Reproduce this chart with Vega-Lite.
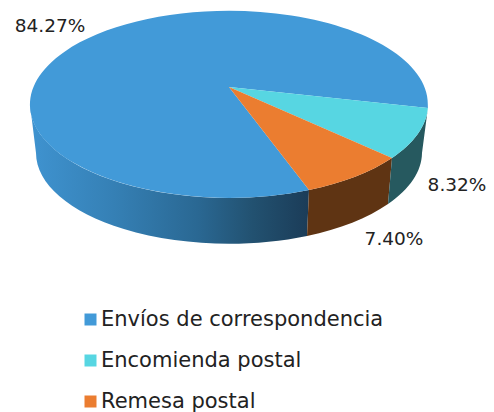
{
 "$schema":"https://vega.github.io/schema/vega-lite/v6.json",
 "width":494,"height":412,"padding":0,"autosize":{"type":"none"},
 "background":"white",
 "view":{"stroke":null},
 "config":{"font":"DejaVu Sans"},
 "data":{"values":[
  {"slice":"Envíos de correspondencia","share":0.8427},
  {"slice":"Encomienda postal","share":0.0832},
  {"slice":"Remesa postal","share":0.0740}
 ]},
 "layer":[
  {"transform":[{"filter":"datum.slice==='Envíos de correspondencia'"}],
   "mark":{"type":"point","filled":true,"opacity":1,"strokeWidth":0,"size":4,
    "shape":"M-217 -101.5L-211 -53A193 91 0 0 0 60 30L62 -16A199 93.5 0 0 1 -217 -101.5Z",
    "fill":{"gradient":"linear","x1":0,"y1":0,"x2":1,"y2":0,"stops":[
      {"offset":0,"color":"#3f93d0"},{"offset":0.3,"color":"#3580b5"},{"offset":0.6,"color":"#2a6893"},{"offset":0.8,"color":"#225170"},{"offset":1,"color":"#1b3c58"}]}}},
  {"transform":[{"filter":"datum.slice==='Remesa postal'"}],
   "mark":{"type":"point","filled":true,"opacity":1,"strokeWidth":0,"size":4,"color":"#5f3413",
    "shape":"M62 -16L60 30A193 91 0 0 0 141 -2L145 -48A199 93.5 0 0 1 62 -16Z"}},
  {"transform":[{"filter":"datum.slice==='Encomienda postal'"}],
   "mark":{"type":"point","filled":true,"opacity":1,"strokeWidth":0,"size":4,"color":"#26595f",
    "shape":"M145 -48L141 -2A193 91 0 0 0 175 -53L180.9 -98A199 93.5 0 0 1 145 -48Z"}},
  {"mark":{"type":"point","filled":true,"opacity":1,"strokeWidth":0,"size":4},
   "encoding":{
    "shape":{"field":"share","type":"nominal","legend":null,"scale":{
      "domain":[0.8427,0.0832,0.074],
      "range":["M-18 -119L62 -16A199 93.5 0 1 1 180.9 -98Z","M-18 -119L180.9 -98A199 93.5 0 0 1 145 -48Z","M-18 -119L145 -48A199 93.5 0 0 1 62 -16Z"]}},
    "fill":{"field":"slice","type":"nominal","scale":{
      "domain":["Envíos de correspondencia","Encomienda postal","Remesa postal"],
      "range":["#429ad8","#57d6e2","#eb7d30"]},
     "legend":{"title":null,"orient":"none","legendX":80,"legendY":309,"padding":0,"symbolType":"square","symbolSize":144,"symbolStrokeWidth":0,"labelFont":"DejaVu Sans","labelFontSize":21,"labelColor":"#222222","labelOffset":0,"rowPadding":19,"labelLimit":400}}
   }},
  {"mark":{"type":"text","font":"DejaVu Sans","fontSize":18.5,"color":"#222222","align":"center","baseline":"middle"},
   "encoding":{
    "x":{"field":"share","type":"quantitative","axis":null,"scale":{"domain":[0.074,0.0832,0.8427],"range":[394,457,50]}},
    "y":{"field":"share","type":"quantitative","axis":null,"scale":{"domain":[0.074,0.0832,0.8427],"range":[239,185,26]}},
    "text":{"field":"share","type":"quantitative","format":".2%"}
   }}
 ]
}
